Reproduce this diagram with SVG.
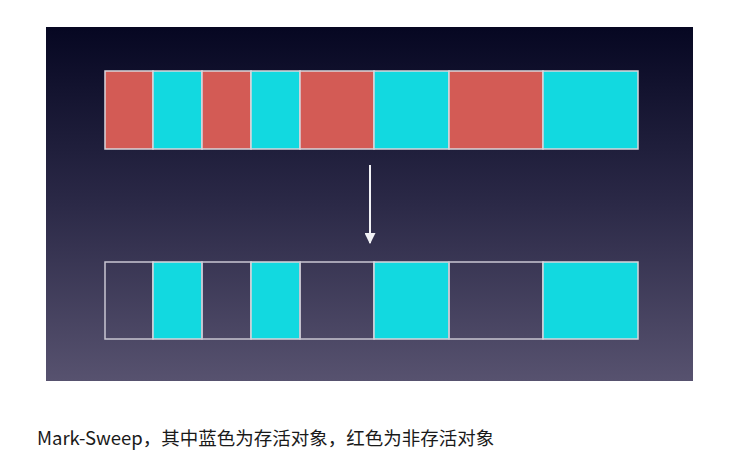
<svg xmlns="http://www.w3.org/2000/svg" width="732" height="473" viewBox="0 0 732 473">
  <defs>
    <linearGradient id="bg" x1="0" y1="0" x2="0" y2="1">
      <stop offset="0" stop-color="#060722"/>
      <stop offset="0.5" stop-color="#2b2947"/>
      <stop offset="1" stop-color="#57526f"/>
    </linearGradient>
    <marker id="ah" viewBox="0 0 10 10" refX="9" refY="5" markerWidth="11" markerHeight="11" markerUnits="userSpaceOnUse" orient="auto">
      <path d="M0,0 L10,5 L0,10 z" fill="#f2f2f6"/>
    </marker>
  </defs>
  <style>
    .red { fill: #d35b55; stroke: #d9d6dc; stroke-width: 1.5; }
    .cyan { fill: #12d9e0; stroke: #d9d6dc; stroke-width: 1.5; }
    .empty { fill: none; stroke: #c9c6d2; stroke-width: 1.5; }
    .conn { stroke: #f2f2f6; stroke-width: 2; fill: none; }
    .cap { font-family: "Microsoft YaHei", "Noto Sans CJK SC", sans-serif; font-size: 18.5px; fill: #1a1a1a; }
  </style>
  <rect x="0" y="0" width="732" height="473" fill="#ffffff"/>
  <rect id="panel" x="46" y="27" width="647" height="354" fill="url(#bg)"/>

  <g id="heap-before">
    <rect class="red" x="105" y="71" width="48" height="78"/>
    <rect class="cyan" x="153" y="71" width="49" height="78"/>
    <rect class="red" x="202" y="71" width="49" height="78"/>
    <rect class="cyan" x="251" y="71" width="49" height="78"/>
    <rect class="red" x="300" y="71" width="74" height="78"/>
    <rect class="cyan" x="374" y="71" width="75" height="78"/>
    <rect class="red" x="449" y="71" width="94" height="78"/>
    <rect class="cyan" x="543" y="71" width="95" height="78"/>
  </g>

  <g id="heap-after">
    <rect class="empty" x="105" y="262" width="48" height="77"/>
    <rect class="cyan" x="153" y="262" width="49" height="77"/>
    <rect class="empty" x="202" y="262" width="49" height="77"/>
    <rect class="cyan" x="251" y="262" width="49" height="77"/>
    <rect class="empty" x="300" y="262" width="74" height="77"/>
    <rect class="cyan" x="374" y="262" width="75" height="77"/>
    <rect class="empty" x="449" y="262" width="94" height="77"/>
    <rect class="cyan" x="543" y="262" width="95" height="77"/>
  </g>

  <g id="connectors">
    <line class="conn" x1="370" y1="165" x2="370" y2="243" marker-end="url(#ah)"/>
  </g>

  <g id="caption">
    <text class="cap" x="37" y="445">Mark-Sweep，其中蓝色为存活对象，红色为非存活对象</text>
  </g>
</svg>
